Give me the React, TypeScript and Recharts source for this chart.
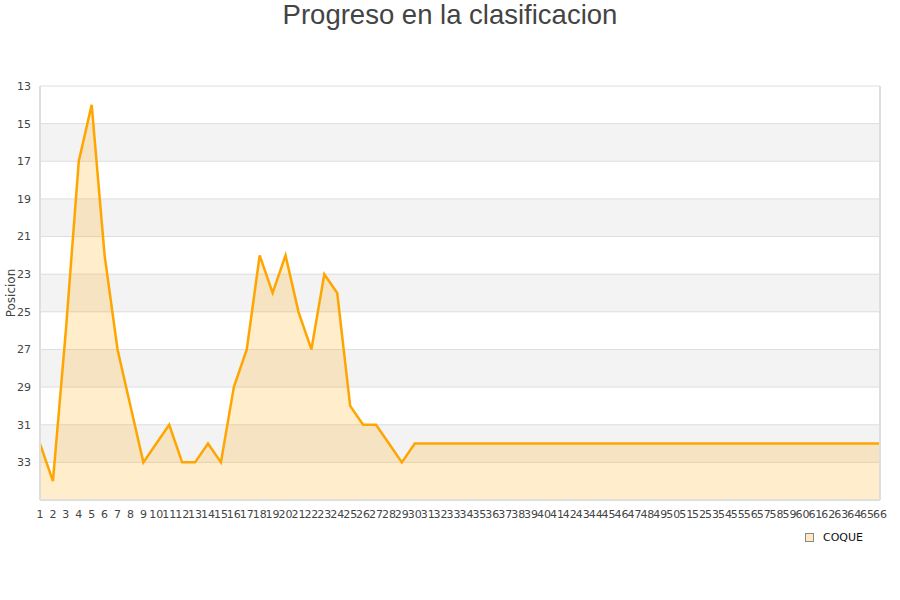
import { AreaChart, Area, XAxis, YAxis, CartesianGrid, ReferenceLine } from 'recharts';

// Jornadas 1..66 and position at each one
const jornadas = Array.from({ length: 66 }, (_, i) => i + 1);
const posiciones = [
    32, 34, 26, 17, 14, 22, 27, 30, 33, 32,
    31, 33, 33, 32, 33, 29, 27, 22, 24, 22,
    25, 27, 23, 24, 30, 31, 31, 32, 33, 32,
    32, 32, 32, 32, 32, 32, 32, 32, 32, 32,
    32, 32, 32, 32, 32, 32, 32, 32, 32, 32,
    32, 32, 32, 32, 32, 32, 32, 32, 32, 32,
    32, 32, 32, 32, 32, 32,
];
const yTicks = [13, 15, 17, 19, 21, 23, 25, 27, 29, 31, 33];
const serie = 'COQUE';

const data = jornadas.map((j, i) => ({ jornada: j, pos: posiciones[i] }));

const FONT = '"DejaVu Sans", sans-serif';

export default function App() {
    return (
        <div style={{ position: 'absolute', left: 0, top: 0, width: 900, height: 600, background: '#fff' }}>
            <div
                style={{
                    position: 'absolute',
                    top: -1,
                    left: 0,
                    width: 900,
                    textAlign: 'center',
                    fontFamily: '"Liberation Sans", Arial, sans-serif',
                    fontSize: 27.5,
                    lineHeight: '32px',
                    color: '#444',
                }}
            >
                Progreso en la clasificacion
            </div>

            <AreaChart
                width={900}
                height={600}
                data={data}
                margin={{ top: 86, right: 20, left: 0, bottom: 70 }}
            >
                <CartesianGrid
                    vertical={false}
                    stroke="#dedede"
                    horizontalFill={['#ffffff', '#f3f3f3']}
                    fillOpacity={1}
                />
                <XAxis
                    dataKey="jornada"
                    interval={0}
                    height={30}
                    tickLine={false}
                    tickSize={6}
                    tickMargin={4}
                    axisLine={{ stroke: '#dedede', strokeWidth: 2 }}
                    tick={{ fontSize: 11, fill: '#444', fontFamily: FONT }}
                />
                <YAxis
                    width={40}
                    reversed
                    type="number"
                    domain={[13, 35]}
                    ticks={yTicks}
                    interval={0}
                    tickLine={false}
                    tickSize={6}
                    tickMargin={3}
                    axisLine={{ stroke: '#dedede', strokeWidth: 2 }}
                    tick={{ fontSize: 11, fill: '#444', fontFamily: FONT }}
                    label={{
                        content: () => (
                            <text
                                x={11}
                                y={293}
                                transform="rotate(-90 11 293)"
                                textAnchor="middle"
                                dominantBaseline="central"
                                fontSize={12}
                                fill="#444"
                                fontFamily={FONT}
                            >
                                Posicion
                            </text>
                        ),
                    }}
                />
                <ReferenceLine x={66} stroke="#dedede" strokeWidth={2} />
                <Area
                    type="linear"
                    dataKey="pos"
                    name={serie}
                    baseValue="dataMax"
                    stroke="#ffa500"
                    strokeWidth={2.5}
                    fill="#ffa500"
                    fillOpacity={0.2}
                    dot={false}
                    activeDot={false}
                    isAnimationActive={false}
                />
            </AreaChart>

            {/* Legend */}
            <div
                style={{
                    position: 'absolute',
                    left: 805,
                    top: 531,
                    display: 'flex',
                    alignItems: 'center',
                    gap: 9,
                    fontFamily: FONT,
                    fontSize: 11,
                    color: '#111',
                }}
            >
                <div
                    style={{
                        width: 7,
                        height: 7,
                        background: '#ffe8c2',
                        border: '1px solid #888',
                    }}
                />
                <span>{serie}</span>
            </div>
        </div>
    );
}
